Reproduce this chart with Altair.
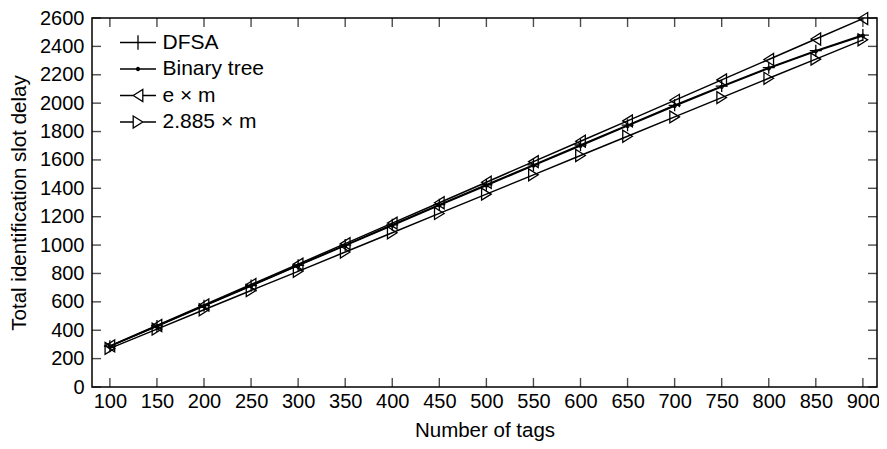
import altair as alt
import pandas as pd

# ---- data ----
x_tags = [100, 150, 200, 250, 300, 350, 400, 450, 500, 550, 600, 650, 700, 750, 800, 850, 900]
labels = ["DFSA", "Binary tree", "e × m", "2.885 × m"]

dfsa = [288, 430, 573, 715, 858, 1000, 1143, 1285, 1425, 1565, 1705, 1845, 1985, 2120, 2250, 2370, 2480]
binary_tree = [286, 428, 570, 712, 855, 996, 1138, 1280, 1420, 1560, 1700, 1840, 1980, 2115, 2245, 2365, 2475]
e_m = [290, 433, 578, 722, 866, 1010, 1155, 1298, 1443, 1588, 1732, 1875, 2020, 2164, 2308, 2452, 2596]
c_m = [272, 408, 544, 680, 815, 951, 1087, 1223, 1359, 1495, 1631, 1767, 1903, 2039, 2175, 2310, 2446]

x_ticks = [100, 150, 200, 250, 300, 350, 400, 450, 500, 550, 600, 650, 700, 750, 800, 850, 900]
y_ticks = [0, 200, 400, 600, 800, 1000, 1200, 1400, 1600, 1800, 2000, 2200, 2400, 2600]
x_domain = [81, 915]
y_domain = [0, 2600]

# ---- marker shapes ----
marker_paths = [
    "M-1,0H1M0,-1V1",
    "M0.25,0A0.25,0.25 0 1,1 -0.25,0A0.25,0.25 0 1,1 0.25,0",
    "M-0.8,0L0.8,-1L0.8,1Z",
    "M0.8,0L-0.8,-1L-0.8,1Z",
]
legend_paths = [
    "M-3,0H3M0,-1.2V1.2",
    "M-3,0H3M0.25,0A0.25,0.25 0 1,1 -0.25,0A0.25,0.25 0 1,1 0.25,0",
    "M-3,0H-0.8M-0.8,0L0.8,-1L0.8,1Z M0.8,0H3",
    "M-3,0H-0.8M-0.8,-1L0.8,0L-0.8,1Z M0.8,0H3",
]

rows = []
for name, vals in zip(labels, [dfsa, binary_tree, e_m, c_m]):
    for t, v in zip(x_tags, vals):
        rows.append({"tags": t, "delay": v, "series": name})
df = pd.DataFrame(rows)

FONT = "Liberation Sans"

x_enc = alt.X("tags:Q", scale=alt.Scale(domain=x_domain, nice=False, zero=False),
              axis=alt.Axis(values=x_ticks, title="Number of tags", labelPadding=4,
                            titlePadding=9, labelFlush=False, labelOverlap=False, format="d"))
y_enc = alt.Y("delay:Q", scale=alt.Scale(domain=y_domain, nice=False),
              axis=alt.Axis(values=y_ticks, title="Total identification slot delay",
                            labelPadding=8, titlePadding=10, labelOverlap=False, format="d"))

base = alt.Chart(df)

lines = base.mark_line(color="black", strokeWidth=1.5).encode(
    x=x_enc, y=y_enc, detail="series:N"
)

points = base.mark_point(filled=False, color="black", strokeWidth=1.3, size=144, opacity=1).encode(
    x=x_enc, y=y_enc,
    shape=alt.Shape("series:N", scale=alt.Scale(domain=labels, range=marker_paths), legend=None),
)

legend_layer = base.transform_filter("datum.delay < 0").mark_point(
    filled=False, color="black", strokeWidth=1.3, size=144, opacity=1
).encode(
    x=x_enc, y=y_enc,
    shape=alt.Shape(
        "series:N",
        scale=alt.Scale(domain=labels, range=legend_paths),
        legend=alt.Legend(
            title=None, orient="none", legendX=35.5, legendY=14,
            labelFont=FONT, labelFontSize=21, labelColor="black",
            symbolStrokeColor="black", symbolFillColor="transparent",
            symbolSize=144, symbolStrokeWidth=1.3, labelOffset=14, rowPadding=4.5,
        ),
    ),
)

# tick-mark helper tables (inward ticks on all four sides of the frame)
xt_bottom = pd.DataFrame({"tags": x_ticks, "delay": [y_domain[0]] * len(x_ticks)})
xt_top = pd.DataFrame({"tags": x_ticks, "delay": [y_domain[1]] * len(x_ticks)})
yt_left = pd.DataFrame({"delay": y_ticks, "tags": [x_domain[0]] * len(y_ticks)})
yt_right = pd.DataFrame({"delay": y_ticks, "tags": [x_domain[1]] * len(y_ticks)})

tick_bottom = alt.Chart(xt_bottom).mark_tick(orient="vertical", size=9, thickness=1.4, yOffset=-4.5, color="black").encode(
    x=x_enc, y=y_enc)
tick_top = alt.Chart(xt_top).mark_tick(orient="vertical", size=9, thickness=1.4, yOffset=4.5, color="black").encode(
    x=x_enc, y=y_enc)
tick_left = alt.Chart(yt_left).mark_tick(orient="horizontal", size=9, thickness=1.4, xOffset=4.5, color="black").encode(
    x=x_enc, y=y_enc)
tick_right = alt.Chart(yt_right).mark_tick(orient="horizontal", size=9, thickness=1.4, xOffset=-4.5, color="black").encode(
    x=x_enc, y=y_enc)

chart = alt.layer(
    lines, points, legend_layer, tick_bottom, tick_top, tick_left, tick_right
).resolve_scale(shape="independent").properties(
    width=871, height=433,
    autosize=alt.AutoSizeParams(type="fit", contains="padding"),
    padding={"left": 1, "top": 0, "right": 0, "bottom": 0},
    background="white",
).configure_view(
    stroke="black", strokeWidth=1.5
).configure_axis(
    domain=False, ticks=False, grid=False,
    labelFont=FONT, labelFontSize=20, labelColor="black",
    titleFont=FONT, titleFontSize=20.5, titleFontWeight="normal", titleColor="black",
)

chart.save("out.html", embed_options={"renderer": "svg", "actions": False})
